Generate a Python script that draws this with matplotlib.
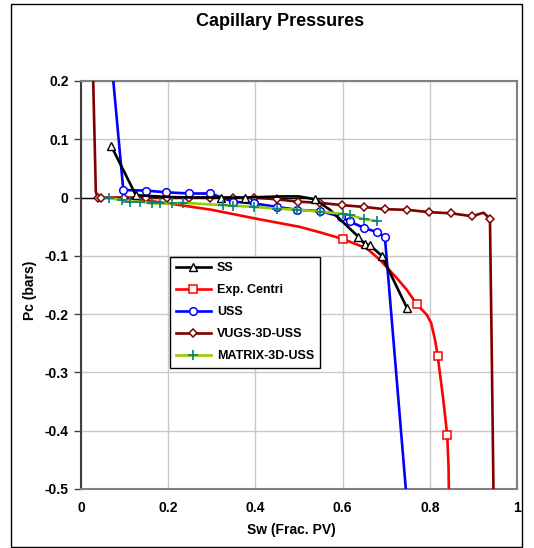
import matplotlib
matplotlib.use("Agg")
import matplotlib.pyplot as plt
from matplotlib.patches import Rectangle

plt.rcParams['font.family'] = ['Liberation Sans', 'DejaVu Sans']

# --- data ---
ss_x = [0.069, 0.126, 0.20, 0.26, 0.32, 0.376, 0.46, 0.50, 0.537, 0.571, 0.636, 0.651, 0.663, 0.690, 0.748]
ss_y = [0.089, 0.004, 0.001, 0.000, 0.000, 0.000, 0.002, 0.002, -0.003, -0.021, -0.067, -0.080, -0.082, -0.100, -0.190]
ss_marks = [0, 1, 4, 5, 8, 10, 11, 12, 13, 14]

exp_x = [0.097, 0.15, 0.20, 0.30, 0.40, 0.50, 0.55, 0.602, 0.655, 0.686, 0.724, 0.747, 0.770, 0.793, 0.803, 0.812, 0.818, 0.831, 0.840, 0.843, 0.844]
exp_y = [0.000, -0.005, -0.010, -0.021, -0.036, -0.050, -0.060, -0.0715, -0.087, -0.107, -0.138, -0.158, -0.183, -0.201, -0.215, -0.244, -0.271, -0.347, -0.408, -0.462, -0.52]
exp_marks = [7, 12, 16, 18]

uss_x = [0.068, 0.097, 0.148, 0.196, 0.248, 0.297, 0.348, 0.397, 0.449, 0.496, 0.548, 0.596, 0.616, 0.649, 0.678, 0.697, 0.709, 0.745, 0.748]
uss_y = [0.25, 0.013, 0.012, 0.009, 0.007, 0.007, -0.007, -0.010, -0.016, -0.021, -0.023, -0.033, -0.041, -0.052, -0.059, -0.068, -0.176, -0.50, -0.53]
uss_marks = list(range(1, 16))

vug_x = [0.026, 0.028, 0.034, 0.038, 0.047, 0.099, 0.149, 0.198, 0.248, 0.297, 0.348, 0.397, 0.449, 0.497, 0.548, 0.598, 0.649, 0.697, 0.748, 0.798, 0.849, 0.897, 0.923, 0.938, 0.942, 0.946, 0.946]
vug_y = [0.25, 0.20, 0.01, 0.000, 0.000, 0.000, 0.000, 0.000, 0.000, 0.000, 0.000, 0.000, -0.003, -0.007, -0.009, -0.013, -0.016, -0.020, -0.021, -0.025, -0.027, -0.032, -0.026, -0.036, -0.261, -0.50, -0.53]
vug_marks = [3, 4, 5, 6, 7, 8, 9, 10, 11, 12, 13, 14, 15, 16, 17, 18, 19, 20, 21, 23]

mat_x = [0.065, 0.093, 0.112, 0.135, 0.162, 0.181, 0.208, 0.233, 0.326, 0.349, 0.397, 0.449, 0.496, 0.548, 0.600, 0.617, 0.649, 0.678]
mat_y = [-0.001, -0.004, -0.007, -0.007, -0.010, -0.010, -0.010, -0.009, -0.013, -0.014, -0.016, -0.019, -0.021, -0.024, -0.028, -0.030, -0.037, -0.040]

x_ticks = [0, 0.2, 0.4, 0.6, 0.8, 1]
x_labels = ['0', '0.2', '0.4', '0.6', '0.8', '1']
y_ticks = [0.2, 0.1, 0, -0.1, -0.2, -0.3, -0.4, -0.5]
y_labels = ['0.2', '0.1', '0', '-0.1', '-0.2', '-0.3', '-0.4', '-0.5']

fig = plt.figure(figsize=(5.34, 5.48), dpi=100)
ax = fig.add_axes([81/534, 1-489/548, 436/534, 408/548])

# outer frame
fig.patches.append(Rectangle((11/534, 1-547/548), 511/534, 543/548, transform=fig.transFigure,
                             fill=False, edgecolor='black', linewidth=1.0))

ax.set_xlim(0, 1)
ax.set_ylim(-0.5, 0.2)
ax.set_xticks(x_ticks)
ax.set_xticklabels(x_labels)
ax.set_yticks(y_ticks)
ax.set_yticklabels(y_labels)
ax.grid(True, color='#c8c8c8', linewidth=1.0)
ax.set_axisbelow(True)
ax.axhline(0, color='black', linewidth=1.0, zorder=1.5)

lw = 1.9
ax.plot(exp_x, exp_y, color='#ff0000', lw=lw, marker='s', ms=5.5, mfc='white', mec='#ff0000', mew=1.1,
        markevery=exp_marks, label='Exp. Centri', zorder=3)
ax.plot(vug_x, vug_y, color='#800000', lw=lw, marker='D', ms=4, mfc='white', mec='#800000', mew=1.1,
        markevery=vug_marks, label='VUGS-3D-USS', zorder=4)
ax.plot(ss_x, ss_y, color='black', lw=lw, marker='^', ms=5.5, mfc='white', mec='black', mew=1.0,
        markevery=ss_marks, label='SS', zorder=5)
ax.plot(uss_x, uss_y, color='#0000ff', lw=lw, marker='o', ms=5.5, mfc='white', mec='#0000ff', mew=1.1,
        markevery=uss_marks, label='USS', zorder=4.5)
ax.plot(mat_x, mat_y, color='#99cc00', lw=lw, marker='+', ms=6.5, mec='#008080', mew=1.2,
        label='MATRIX-3D-USS', zorder=6)

for s in ['top', 'right', 'bottom']:
    ax.spines[s].set_color('#808080')
    ax.spines[s].set_linewidth(1.5)
ax.spines['left'].set_color('#404040')
ax.spines['left'].set_linewidth(1.5)

ax.tick_params(axis='y', direction='out', length=5, width=1, color='#404040', pad=4,
               labelsize=10)
ax.tick_params(axis='x', direction='out', length=0, pad=9, labelsize=10)
for lab in ax.get_xticklabels() + ax.get_yticklabels():
    lab.set_fontweight('bold')

fig.text(280/534, 1-22/548, 'Capillary Pressures', ha='center', va='center',
         fontsize=13, fontweight='bold')
fig.text(291/534, 1-530/548, 'Sw (Frac. PV)', ha='center', va='center',
         fontsize=10, fontweight='bold')
fig.text(30/534, 1-290/548, 'Pc (bars)', ha='center', va='center', rotation=90,
         fontsize=10, fontweight='bold')

handles, labels = ax.get_legend_handles_labels()
order = ['SS', 'Exp. Centri', 'USS', 'VUGS-3D-USS', 'MATRIX-3D-USS']
hmap = dict(zip(labels, handles))
leg = ax.legend([hmap[k] for k in order], order, loc='upper left',
                bbox_to_anchor=((170-81)/436, (489-256.7)/408), fancybox=False,
                framealpha=1, edgecolor='black', prop={'weight': 'bold', 'size': 9},
                handlelength=2.8, handletextpad=0.5, borderpad=0.45, labelspacing=0.8,
                borderaxespad=0)
leg.get_frame().set_linewidth(1.0)
leg.set_zorder(10)

fig.savefig('out.png', dpi=100)
